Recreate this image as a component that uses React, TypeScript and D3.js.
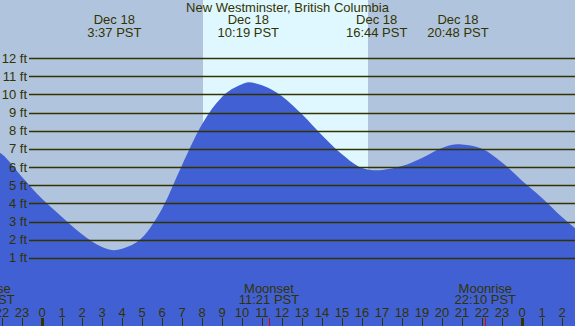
import { useEffect, useRef } from "react";
import * as d3 from "d3";

// hours from midnight Dec 18 (PST), heights in feet
const tideHours = [-2.2, -2, -1, 0, 1, 2, 3, 3.62, 4, 5, 6, 7, 8, 9, 10, 10.32, 11, 12, 13, 14, 15, 16, 16.73, 17, 18, 19, 20, 20.8, 21, 22, 23, 24, 25, 26, 27];
const tideFeet = [6.85, 6.7, 5.45, 4.25, 3.25, 2.3, 1.6, 1.42, 1.5, 2.1, 3.7, 6.1, 8.35, 9.85, 10.55, 10.66, 10.5, 9.9, 8.9, 7.75, 6.7, 5.95, 5.82, 5.84, 6.05, 6.5, 7.05, 7.25, 7.24, 7.0, 6.25, 5.25, 4.3, 3.25, 2.3];

const extremeHours = [3.617, 10.317, 16.733, 20.8];
const extremeLabels = ["3:37 PST", "10:19 PST", "16:44 PST", "20:48 PST"];
const extremeDate = "Dec 18";

const sunrise = 8.05;
const sunset = 16.3;

const moonHours = [-2.9, 11.35, 22.167];
const moonNames = ["Moonrise", "Moonset", "Moonrise"];
const moonLabels = ["21:06 PST", "11:21 PST", "22:10 PST"];

const feetTicks = [1, 2, 3, 4, 5, 6, 7, 8, 9, 10, 11, 12];
const hourTicks = d3.range(-2, 27);

const TITLE = "New Westminster, British Columbia";
const W = 575, H = 326;
const FONT = "Liberation Sans, Arial, sans-serif";
const FS = 13;
const INK = "#333300";

export default function App() {
  const ref = useRef<SVGSVGElement>(null);

  useEffect(() => {
    const el = ref.current;
    if (!el) return;
    const svg = d3.select(el);
    svg.selectAll("*").remove();

    const x = d3.scaleLinear().domain([0, 24]).range([42, 522]);
    const y = d3.scaleLinear().domain([0, 12]).range([276, 58]);

    svg.append("rect").attr("width", W).attr("height", H).attr("fill", "#B0C4DE");
    svg.append("rect").attr("x", x(sunrise)).attr("y", 0).attr("width", x(sunset) - x(sunrise)).attr("height", H).attr("fill", "#DFF8FF");

    const pts = tideHours.map((h, i) => [h, tideFeet[i]] as [number, number]);
    const area = d3.area<[number, number]>().x((d) => x(d[0])).y0(H).y1((d) => y(d[1])).curve(d3.curveMonotoneX);
    svg.append("path").attr("d", area(pts)).attr("fill", "#4160D4");

    // gridlines + feet labels
    svg.append("g").selectAll("line").data(feetTicks).join("line")
      .attr("x1", 29).attr("x2", W).attr("y1", (d) => Math.round(y(d)) + 0.5).attr("y2", (d) => Math.round(y(d)) + 0.5)
      .attr("stroke", INK).attr("stroke-width", 1.3);
    svg.append("g").selectAll("text").data(feetTicks).join("text")
      .attr("x", 27).attr("y", (d) => y(d) + 4.5).attr("text-anchor", "end")
      .attr("font-family", FONT).attr("font-size", FS).attr("fill", INK).text((d) => `${d} ft`);

    // title + tide extremes
    svg.append("text").attr("x", W / 2).attr("y", 12).attr("text-anchor", "middle")
      .attr("font-family", FONT).attr("font-size", FS).attr("fill", INK).text(TITLE);
    const ex = svg.append("g").selectAll("g").data(extremeHours).join("g");
    ex.append("text").attr("x", (d) => x(d)).attr("y", 24).attr("text-anchor", "middle")
      .attr("font-family", FONT).attr("font-size", FS).attr("fill", INK).text(extremeDate);
    ex.append("text").attr("x", (d) => x(d)).attr("y", 37).attr("text-anchor", "middle")
      .attr("font-family", FONT).attr("font-size", FS).attr("fill", INK).text((_, i) => extremeLabels[i]);

    // moon events
    const mg = svg.append("g").selectAll("g").data(moonHours).join("g");
    mg.append("text").attr("x", (d) => x(d)).attr("y", 293).attr("text-anchor", "middle")
      .attr("font-family", FONT).attr("font-size", FS).attr("fill", INK).text((_, i) => moonNames[i]);
    mg.append("text").attr("x", (d) => x(d)).attr("y", 304).attr("text-anchor", "middle")
      .attr("font-family", FONT).attr("font-size", FS).attr("fill", INK).text((_, i) => moonLabels[i]);
    mg.append("line").attr("x1", (d) => Math.round(x(d)) + 0.5).attr("x2", (d) => Math.round(x(d)) + 0.5)
      .attr("y1", 318).attr("y2", H).attr("stroke", "#E00000").attr("stroke-width", 1);

    // hour ticks
    const hg = svg.append("g").selectAll("g").data(hourTicks).join("g");
    hg.append("text").attr("x", (d) => x(d)).attr("y", 316.5).attr("text-anchor", "middle")
      .attr("font-family", FONT).attr("font-size", FS).attr("fill", INK).text((d) => ((d % 24) + 24) % 24);
    hg.append("line").attr("x1", (d) => Math.round(x(d)) + 0.5).attr("x2", (d) => Math.round(x(d)) + 0.5)
      .attr("y1", 318).attr("y2", H).attr("stroke", INK)
      .attr("stroke-width", (d) => (((d % 24) + 24) % 24 === 0 ? 3 : 1));
  }, []);

  return <svg ref={ref} width={W} height={H} style={{ display: "block", position: "absolute", left: 0, top: 0 }} />;
}
